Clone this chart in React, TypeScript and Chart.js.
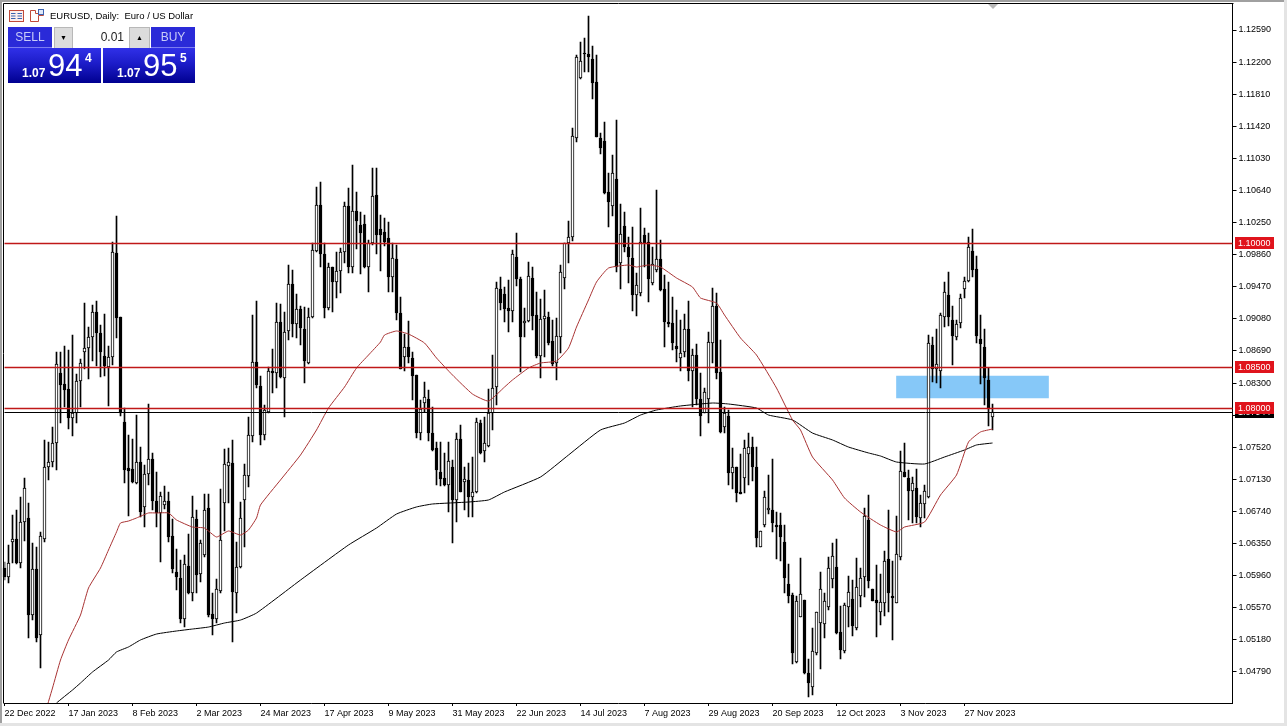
import React, { useEffect, useRef } from "react";
import { Chart, registerables } from "chart.js";

Chart.register(...registerables);

const tickDates = ["22 Dec 2022","17 Jan 2023","8 Feb 2023","2 Mar 2023","24 Mar 2023","17 Apr 2023","9 May 2023","31 May 2023","22 Jun 2023","14 Jul 2023","7 Aug 2023","29 Aug 2023","20 Sep 2023","12 Oct 2023","3 Nov 2023","27 Nov 2023"];
const priceTicks = [1.1259,1.122,1.1181,1.1142,1.1103,1.1064,1.1025,1.0986,1.0947,1.0908,1.0869,1.083,1.0791,1.0752,1.0713,1.0674,1.0635,1.0596,1.0557,1.0518,1.0479];
const levels = [1.1, 1.085, 1.08];
const bidPrice = 1.07944;
const zoneLow = 1.0812;
const zoneHigh = 1.0839;

const candleUp = "0110110101"+"1111000111"+"1110001100"+"0001011001"+"1000010101"+"1001111011"+"1110011010"+"1101001110"+"0101110100"+"0110000100"+"1000110000"+"0101010110"+"1111000100"+"1100110011"+"1111100000"+"0010100011"+"0011000001"+"1010011100"+"1010011001"+"1100000011"+"0011111100"+"1101110001"+"1001100101"+"1101110011"+"11000001";

const candleHigh = [
1.06126,1.06333,1.06697,1.06758,1.06916,1.07147,1.06843,1.06357,1.06309,1.06491,
1.07609,1.07584,1.07766,1.08678,1.08678,1.08751,1.08702,1.08884,1.0841,1.08593,
1.09273,1.08981,1.09249,1.09297,1.09006,1.09139,1.08751,1.10014,1.1033,1.09103,
1.07997,1.07669,1.07621,1.07912,1.07523,1.07305,1.08046,1.07451,1.0722,1.06977,
1.0705,1.06977,1.06649,1.06284,1.0615,1.06211,1.06466,1.06928,1.06758,1.06394,
1.06952,1.06952,1.0575,1.0592,1.07013,1.07499,1.07511,1.07609,1.06369,1.06855,
1.07317,1.07888,1.09127,1.09297,1.08386,1.08034,1.08496,1.08714,1.09273,1.09261,
1.09164,1.09735,1.09674,1.09382,1.09237,1.09224,1.09212,1.10002,1.10682,1.10743,
1.10002,1.09759,1.0971,1.09893,1.09941,1.105,1.1067,1.1095,1.10622,1.10379,
1.10342,1.10039,1.10913,1.10913,1.10342,1.10306,1.10257,1.10002,1.09978,1.09346,
1.08896,1.09054,1.08678,1.08398,1.08095,1.08313,1.08216,1.08009,1.07584,1.07584,
1.07451,1.07584,1.07366,1.07693,1.07791,1.07281,1.07329,1.07402,1.07876,1.07852,
1.07888,1.08228,1.08641,1.09528,1.09589,1.09467,1.09553,1.09917,1.10124,1.09589,
1.09212,1.09771,1.0971,1.09407,1.09322,1.09431,1.09164,1.09066,1.09091,1.09735,
1.10002,1.10269,1.11399,1.12286,1.12444,1.12493,1.1276,1.12396,1.12286,1.11339,
1.11472,1.10853,1.11071,1.11497,1.10476,1.10379,1.10075,1.10197,1.09638,1.10427,
1.10184,1.10124,1.09954,1.10646,1.10039,1.09613,1.09528,1.09346,1.09188,1.09066,
1.09139,1.09297,1.08714,1.08775,1.08423,1.0824,1.08921,1.09455,1.09395,1.08823,
1.08009,1.07973,1.07511,1.07281,1.07439,1.07609,1.07693,1.07645,1.07523,1.06503,
1.06989,1.07183,1.07378,1.06734,1.06722,1.06576,1.06102,1.0575,1.05713,1.06175,
1.05665,1.04948,1.05324,1.05519,1.06005,1.0575,1.06187,1.06357,1.06406,1.05592,
1.05628,1.05956,1.05907,1.06175,1.06053,1.06782,1.0694,1.05798,1.0609,1.0598,
1.0626,1.06758,1.06138,1.06685,1.07475,1.07572,1.07244,1.07159,1.07256,1.0694,
1.07062,1.08884,1.0886,1.08957,1.09152,1.09528,1.0965,1.09237,1.09066,1.09382,
1.09589,1.10075,1.10172,1.09844,1.09127,1.08957,1.08483,1.08046];

const candleBodyTop = [
1.06053,1.06114,1.06406,1.06406,1.06612,1.07025,1.06661,1.06041,1.06041,1.06442,
1.07281,1.07341,1.07572,1.08532,1.08423,1.08289,1.08228,1.07937,1.08325,1.08544,
1.08726,1.0886,1.09164,1.09164,1.08909,1.08629,1.08617,1.09893,1.09881,1.09103,
1.07827,1.07268,1.07256,1.07341,1.07341,1.07195,1.07378,1.07378,1.06867,1.06928,
1.06867,1.06867,1.06442,1.06005,1.05932,1.06102,1.06078,1.06673,1.06649,1.06357,
1.06758,1.06782,1.05494,1.05798,1.06394,1.07317,1.07341,1.07329,1.06066,1.06661,
1.07183,1.07669,1.08556,1.08556,1.08265,1.07973,1.08447,1.08447,1.09042,1.09042,
1.08921,1.09504,1.09504,1.092,1.092,1.08957,1.09103,1.09917,1.10464,1.10464,
1.09868,1.0971,1.0971,1.09662,1.09893,1.10452,1.10452,1.10391,1.10391,1.10221,
1.10233,1.10002,1.10573,1.10585,1.10172,1.10136,1.10063,1.0982,1.09808,1.09152,
1.08739,1.08739,1.08605,1.08398,1.07985,1.08131,1.08107,1.07693,1.07511,1.0722,
1.07147,1.07353,1.07281,1.07621,1.07621,1.07135,1.07123,1.06977,1.07827,1.07815,
1.07572,1.07937,1.0824,1.09455,1.09443,1.09382,1.09212,1.09868,1.09832,1.09565,
1.09054,1.09601,1.09577,1.09127,1.09079,1.09115,1.09103,1.08811,1.08872,1.0965,
1.10002,1.10075,1.11302,1.12262,1.12213,1.12311,1.12298,1.12238,1.11958,1.11278,
1.11241,1.10622,1.10853,1.1078,1.10111,1.10209,1.09954,1.0982,1.09492,1.10014,
1.10099,1.10014,1.09747,1.09808,1.09808,1.09443,1.09042,1.0903,1.08751,1.08666,
1.08957,1.08957,1.08641,1.08641,1.08107,1.08192,1.08799,1.09237,1.09237,1.08435,
1.07937,1.079,1.07281,1.07281,1.06977,1.07511,1.07523,1.07523,1.07281,1.06503,
1.06916,1.06782,1.06758,1.06576,1.06576,1.06369,1.05859,1.05725,1.05652,1.05737,
1.05665,1.04778,1.05045,1.05519,1.05798,1.05652,1.06053,1.06199,1.06066,1.05276,
1.05604,1.05762,1.05677,1.05822,1.05932,1.06685,1.06637,1.05798,1.05665,1.0564,
1.06138,1.06163,1.05713,1.06223,1.07232,1.0722,1.07147,1.07086,1.07025,1.06843,
1.06989,1.08787,1.08763,1.08532,1.09127,1.09407,1.0937,1.09066,1.09018,1.09334,
1.0954,1.09954,1.09905,1.09686,1.08836,1.08739,1.08338,1.07944];

const candleBodyBottom = [
1.05944,1.05944,1.06369,1.06114,1.06114,1.06612,1.05482,1.05482,1.05203,1.05239,
1.06406,1.07281,1.07341,1.07572,1.08277,1.08216,1.07876,1.07876,1.07937,1.08325,
1.08678,1.08726,1.0886,1.08909,1.08678,1.08508,1.08496,1.08617,1.09091,1.07937,
1.07244,1.07232,1.07098,1.07086,1.06734,1.06795,1.07195,1.06867,1.06722,1.06722,
1.06819,1.0643,1.06041,1.05944,1.05434,1.05434,1.0575,1.0575,1.05968,1.0598,
1.06211,1.05482,1.05434,1.05434,1.05774,1.06843,1.07293,1.05762,1.0575,1.06066,
1.0688,1.07171,1.07657,1.08277,1.07669,1.07669,1.07949,1.08423,1.08423,1.08374,
1.08362,1.08933,1.09018,1.09018,1.08969,1.08568,1.08544,1.09103,1.09905,1.09868,
1.09212,1.09212,1.09528,1.09528,1.09662,1.09893,1.0971,1.0971,1.10269,1.10124,
1.0971,1.0971,1.10002,1.10099,1.10099,1.10014,1.09589,1.09589,1.09152,1.08471,
1.08617,1.08617,1.08386,1.07693,1.07693,1.08058,1.07693,1.07487,1.07244,1.07135,
1.07062,1.07062,1.0688,1.0688,1.06977,1.07098,1.06916,1.06916,1.06977,1.07451,
1.07475,1.07536,1.07937,1.08252,1.09273,1.092,1.09176,1.09176,1.09565,1.0886,
1.0903,1.09054,1.09115,1.08629,1.08629,1.09079,1.08787,1.08532,1.08544,1.0886,
1.09577,1.10002,1.10075,1.11278,1.12006,1.12298,1.12262,1.11946,1.1129,1.11156,
1.1061,1.105,1.10452,1.0971,1.09759,1.09954,1.09832,1.0937,1.0937,1.09395,
1.10002,1.09565,1.09516,1.09674,1.09431,1.09042,1.09018,1.08787,1.08714,1.08605,
1.08678,1.08447,1.08447,1.08107,1.079,1.07937,1.08107,1.08787,1.08423,1.07706,
1.07766,1.07208,1.07208,1.06965,1.06952,1.07147,1.07439,1.07281,1.06418,1.06309,
1.06576,1.06758,1.066,1.06551,1.0643,1.05932,1.05713,1.05021,1.04911,1.05458,
1.04778,1.04656,1.04607,1.05021,1.05385,1.05373,1.05579,1.0592,1.05264,1.05057,
1.05045,1.05579,1.05349,1.05324,1.05713,1.05944,1.05895,1.05652,1.05628,1.05519,
1.05628,1.0575,1.05689,1.05628,1.06187,1.07159,1.06989,1.06989,1.06673,1.06661,
1.06831,1.06916,1.08471,1.08471,1.08447,1.09103,1.09103,1.08872,1.0886,1.0903,
1.09443,1.0954,1.09674,1.08872,1.08775,1.08362,1.07985,1.07888];

const candleLow = [
1.05907,1.05871,1.06114,1.06102,1.06053,1.06381,1.05203,1.05421,1.05154,1.04838,
1.06369,1.07123,1.07281,1.07244,1.07815,1.08009,1.07742,1.07657,1.07815,1.08009,
1.08471,1.0835,1.08568,1.08508,1.08374,1.08386,1.08022,1.0852,1.08848,1.079,
1.07086,1.06685,1.07086,1.07074,1.06673,1.06551,1.07062,1.06758,1.06551,1.06126,
1.0677,1.06369,1.05993,1.05786,1.05385,1.05336,1.05737,1.05652,1.0575,1.05883,
1.06187,1.05458,1.05239,1.05385,1.0575,1.06503,1.06843,1.05154,1.05506,1.06053,
1.06309,1.07038,1.07584,1.0824,1.07548,1.07609,1.07937,1.0818,1.0824,1.08362,
1.07888,1.08823,1.0886,1.08848,1.08763,1.08301,1.08532,1.09091,1.09893,1.0971,
1.09091,1.09188,1.09164,1.09334,1.09395,1.09759,1.09638,1.09638,1.09929,1.09625,
1.09698,1.09407,1.09978,1.09868,1.09662,1.09966,1.09407,1.09407,1.09066,1.08471,
1.08447,1.08544,1.08095,1.07633,1.07609,1.07949,1.07596,1.07475,1.07062,1.0705,
1.0705,1.06734,1.06357,1.06612,1.06977,1.06758,1.06673,1.06673,1.06965,1.07439,
1.07341,1.07523,1.0773,1.08034,1.09188,1.09042,1.08921,1.09042,1.0948,1.08435,
1.0886,1.09042,1.08945,1.08605,1.08362,1.08617,1.08763,1.08508,1.08338,1.08666,
1.09443,1.09759,1.10026,1.11229,1.11995,1.1208,1.1208,1.11752,1.1129,1.11083,
1.10597,1.10197,1.1033,1.0965,1.09443,1.09893,1.09516,1.09176,1.09115,1.09358,
1.0971,1.09285,1.09492,1.0965,1.09419,1.08739,1.08981,1.08702,1.08556,1.08447,
1.08617,1.08325,1.08009,1.08034,1.07657,1.07937,1.07815,1.08544,1.0835,1.07693,
1.07693,1.07062,1.07013,1.06855,1.06952,1.06965,1.07062,1.0711,1.06309,1.06309,
1.06551,1.06709,1.06491,1.06163,1.06138,1.0575,1.05628,1.04887,1.04899,1.05458,
1.04766,1.04486,1.0451,1.04996,1.04826,1.05203,1.05543,1.0581,1.05251,1.04948,
1.05021,1.05336,1.05227,1.053,1.05579,1.05701,1.0581,1.05652,1.05215,1.05361,
1.0547,1.05519,1.05179,1.05628,1.0615,1.07159,1.06637,1.066,1.066,1.06551,
1.06661,1.06904,1.08313,1.08301,1.0824,1.08981,1.08994,1.0852,1.08823,1.08969,
1.09334,1.09528,1.09589,1.08787,1.08289,1.08034,1.07779,1.0773];

const redBars = [10,12,14,16,19,21,24,26,28,29,31,33,36,38,41,43,47,50,53,56,59,61,63,64,69,74,78,81,85,88,91,94,95,98,101,105,108,112,117,121,125,127,131,134,138,141,143,146,148,151,156,158,161,164,168,172,174,178,180,184,188,193,197,199,202,207,210,214,219,223,225,230,234,238,241,244,247];
const redValues = [1.04267,1.04595,1.04935,1.05179,1.05482,1.0581,1.06053,1.06272,1.06491,1.066,1.06624,1.06661,1.06722,1.06722,1.06722,1.06637,1.06551,1.06539,1.0643,1.06503,1.06454,1.06515,1.06661,1.06819,1.07123,1.07426,1.0773,1.07997,1.08252,1.08483,1.08641,1.08799,1.08884,1.08933,1.08896,1.08787,1.08605,1.08398,1.08167,1.08082,1.08252,1.08338,1.08483,1.08544,1.08568,1.08726,1.08981,1.0931,1.09528,1.09698,1.09735,1.0971,1.09735,1.0971,1.09577,1.09467,1.09334,1.09273,1.09127,1.08848,1.08641,1.0824,1.07852,1.0773,1.07402,1.07123,1.06904,1.06734,1.06576,1.06491,1.06551,1.06612,1.0694,1.07183,1.07584,1.07706,1.07742];
const blackBars = [12,13,17,19,22,26,28,31,34,38,43,47,51,55,59,63,74,86,93,98,103,107,116,121,125,134,141,149,155,159,163,169,177,181,188,191,197,202,207,211,216,219,223,230,235,240,243,247];
const blackValues = [1.04352,1.04413,1.04571,1.04656,1.0479,1.04935,1.05033,1.05094,1.05179,1.05251,1.05288,1.05312,1.05336,1.05385,1.05421,1.05506,1.05907,1.06333,1.06539,1.06709,1.06795,1.06831,1.06855,1.0688,1.06977,1.07159,1.07426,1.0773,1.07815,1.07912,1.07973,1.08022,1.08058,1.08046,1.07997,1.07912,1.07852,1.07693,1.07609,1.07523,1.07451,1.07414,1.07341,1.07317,1.07402,1.07487,1.07548,1.07572];

const SLOTS = 308;
const UI_FONT = "'Liberation Sans', Arial, sans-serif";
const labels = Array.from({ length: SLOTS }, (_, i) => (i % 16 === 0 && tickDates[i / 16]) || "");
const sparse = (bars: number[], values: number[]) => {
  const a: (number | null)[] = Array(SLOTS).fill(null);
  bars.forEach((b, j) => { a[b] = values[j]; });
  return a;
};
const ZONE_BAR = 242;

const snapPlugin = {
  id: "snap",
  afterDatasetsUpdate(chart: any) {
    chart.data.datasets.forEach((ds: any, idx: number) => {
      const meta = chart.getDatasetMeta(idx);
      if (ds.type === "line") {
        if (ds.snap) meta.data.forEach((p: any) => { if (!p.skip) p.y = Math.round(p.y) + 0.5; });
      } else {
        meta.data.forEach((el: any) => {
          if (el.base == null || isNaN(el.y)) return;
          el.y = Math.round(el.y);
          el.base = Math.round(el.base);
        });
      }
    });
  },
};

const framePlugin = {
  id: "frame",
  afterDraw(chart: any) {
    const { ctx, chartArea, scales } = chart;
    ctx.save();
    ctx.strokeStyle = "#000";
    ctx.lineWidth = 1;
    ctx.beginPath();
    ctx.moveTo(3.5, chartArea.bottom + 0.5);
    ctx.lineTo(3.5, 3.5);
    ctx.lineTo(chartArea.right + 1, 3.5);
    ctx.stroke();
    const tag = (value: number, bg: string) => {
      const y = Math.round(scales.y.getPixelForValue(value));
      ctx.fillStyle = bg;
      ctx.fillRect(1235, y - 6, 39, 12);
      ctx.fillStyle = "#fff";
      ctx.font = `9px ${UI_FONT}`;
      ctx.textBaseline = "middle";
      ctx.textAlign = "left";
      ctx.fillText(value.toFixed(5), 1238, y + 0.5);
    };
    tag(bidPrice, "#000");
    levels.forEach((l) => tag(l, "#e0141c"));
    ctx.restore();
  },
};

const Icons = () => (
  <svg width="40" height="16" style={{ position: "absolute", left: 9, top: 8 }}>
    <rect x="0.5" y="2.5" width="14" height="11" fill="#fbeeee" stroke="#c04a3a" />
    <path d="M2 5.5h4.5M2 8h4.5M2 10.5h4.5M8.5 5.5h4.5M8.5 8h4.5M8.5 10.5h4.5" stroke="#3a62b0" />
    <path d="M21.5 2.5h5v3h3v-3h5v5h-5v6h-8z" fill="#fff" stroke="#c04a3a" />
    <rect x="29.5" y="1.5" width="5" height="5" fill="#dfe8f8" stroke="#3a62b0" />
  </svg>
);

const box = (s: React.CSSProperties): React.CSSProperties => ({ position: "absolute", boxSizing: "border-box", ...s });
const blueGrad = "linear-gradient(#3030e8 0%, #1c1cc8 45%, #000090 100%)";

const PriceBox = ({ left, width, big, small }: { left: number; width: number; big: string; small: string }) => (
  <div style={box({ left, top: 48, width, height: 35, background: blueGrad, color: "#fff", fontFamily: UI_FONT })}>
    <span style={box({ left: 14, top: 18, fontSize: 12, fontWeight: 700 })}>1.07</span>
    <span style={box({ left: 40, top: 0, fontSize: 31, lineHeight: "35px" })}>{big}</span>
    <span style={box({ left: 77, top: 3, fontSize: 12, fontWeight: 700 })}>{small}</span>
  </div>
);

const TradeButton = ({ left, text }: { left: number; text: string }) => (
  <div style={box({ left, top: 27, width: 44, height: 21, background: "#2a2ad8", color: "#c8ccf8", fontFamily: UI_FONT, fontSize: 12, textAlign: "center", lineHeight: "20px", borderBottom: "1px solid #7c7cf0" })}>{text}</div>
);

export default function App() {
  const ref = useRef<HTMLCanvasElement>(null);
  useEffect(() => {
    const n = candleHigh.length;
    const wicks = Array.from({ length: n }, (_, i) => [candleLow[i], candleHigh[i]]);
    const bodies = Array.from({ length: n }, (_, i) => [candleBodyBottom[i], candleBodyTop[i]]);
    const fills = Array.from({ length: n }, (_, i) => (candleUp[i] === "1" ? "#fff" : "#000"));
    const zone: any[] = Array(SLOTS).fill(null);
    zone[ZONE_BAR] = [zoneLow, zoneHigh];
    const levelSets = [{ l: bidPrice, c: "#000", w: 1 }, ...levels.map((l) => ({ l, c: "#c01818", w: 1.7 }))];
    const chart = new Chart(ref.current as HTMLCanvasElement, {
      type: "bar",
      data: {
        labels,
        datasets: [
          { type: "bar", label: "zone", data: zone, backgroundColor: "#86c8f8", barThickness: 152, grouped: false, order: 5, clip: false } as any,
          { type: "bar", label: "wick", data: wicks, backgroundColor: "#000", barThickness: 1, grouped: false, order: 4, borderWidth: 0 } as any,
          { type: "bar", label: "body", data: bodies, backgroundColor: fills, borderColor: "#000", borderWidth: 1, borderSkipped: false, barThickness: 3, grouped: false, order: 3, clip: false } as any,
          { type: "line", label: "red", data: sparse(redBars, redValues), borderColor: "#a83232", borderWidth: 1, pointRadius: 0, spanGaps: true, tension: 0.15, order: 2 } as any,
          { type: "line", label: "black", data: sparse(blackBars, blackValues), borderColor: "#000", borderWidth: 1, pointRadius: 0, spanGaps: true, tension: 0.15, order: 2 } as any,
          ...levelSets.map((s) => ({ type: "line", label: String(s.l), data: sparse([0, SLOTS - 1], [s.l, s.l]), borderColor: s.c, borderWidth: s.w, pointRadius: 0, spanGaps: true, tension: 0, order: 1, snap: true })) as any,
        ],
      },
      options: {
        responsive: false,
        animation: false,
        devicePixelRatio: 1,
        layout: { padding: { left: 4.5, top: 4, right: 0, bottom: 0 } },
        plugins: { legend: { display: false }, tooltip: { enabled: false } },
        scales: {
          x: {
            offset: false,
            afterFit: (s: any) => { s.height = 23; s.paddingLeft = 0; s.paddingRight = 0; },
            afterBuildTicks: (s: any) => { s.ticks = s.ticks.filter((t: any) => labels[t.value] !== ""); },
            grid: { display: true, offset: false, drawOnChartArea: false, drawTicks: true, tickLength: 3, color: "#000" },
            border: { color: "#000" },
            ticks: { autoSkip: false, maxRotation: 0, minRotation: 0, align: "start", padding: 2, color: "#000", font: { family: UI_FONT, size: 9 } },
          },
          y: {
            position: "right",
            min: 1.044131,
            max: 1.129059,
            afterFit: (s: any) => { s.width = 54.5; s.paddingTop = 0; s.paddingBottom = 0; },
            afterBuildTicks: (s: any) => { s.ticks = priceTicks.map((value) => ({ value })); },
            grid: { display: true, drawOnChartArea: false, drawTicks: true, tickLength: 4, color: "#000" },
            border: { color: "#000" },
            ticks: { autoSkip: false, padding: 2, color: "#000", font: { family: UI_FONT, size: 9 }, callback: (v: any) => Number(v).toFixed(5) },
          },
        },
      } as any,
      plugins: [snapPlugin, framePlugin],
    } as any);
    return () => chart.destroy();
  }, []);

  return (
    <div style={box({ position: "fixed", left: 0, top: 0, width: 1287, height: 726, overflow: "hidden", background: "#fff" })}>
      <div style={box({ left: 0, top: 0, width: 1287, height: 2, background: "#a0a0a0" })} />
      <div style={box({ left: 0, top: 0, width: 2, height: 726, background: "#a0a0a0" })} />
      <div style={box({ left: 0, top: 723, width: 1287, height: 3, background: "#e4e4e4" })} />
      <div style={box({ left: 1284, top: 0, width: 3, height: 726, background: "#e4e4e4" })} />
      <canvas ref={ref} width={1287} height={726} style={{ position: "absolute", left: 0, top: 0, display: "block", width: 1287, height: 726 }} />
      <div style={box({ left: 988, top: 4, width: 0, height: 0, borderLeft: "5px solid transparent", borderRight: "5px solid transparent", borderTop: "5px solid #b8b8b8" })} />
      <Icons />
      <div style={box({ left: 50, top: 9, fontFamily: UI_FONT, fontSize: 9.5, lineHeight: "13px", color: "#000", whiteSpace: "pre" })}>{"EURUSD, Daily:  Euro / US Dollar"}</div>
      <TradeButton left={8} text="SELL" />
      <TradeButton left={151} text="BUY" />
      <div style={box({ left: 54, top: 27, width: 96, height: 22, background: "#fff", fontFamily: UI_FONT })}>
        <div style={box({ left: 0, top: 0, width: 19, height: 22, background: "#dcdcdc", border: "1px solid #b8b8b8", textAlign: "center", fontSize: 7, lineHeight: "20px" })}>▼</div>
        <div style={box({ left: 20, top: 0, width: 50, height: 22, textAlign: "right", fontSize: 12, lineHeight: "20px", color: "#222" })}>0.01</div>
        <div style={box({ left: 75, top: 0, width: 21, height: 22, background: "#dcdcdc", border: "1px solid #b8b8b8", textAlign: "center", fontSize: 7, lineHeight: "20px" })}>▲</div>
      </div>
      <PriceBox left={8} width={93} big="94" small="4" />
      <PriceBox left={103} width={92} big="95" small="5" />
    </div>
  );
}
